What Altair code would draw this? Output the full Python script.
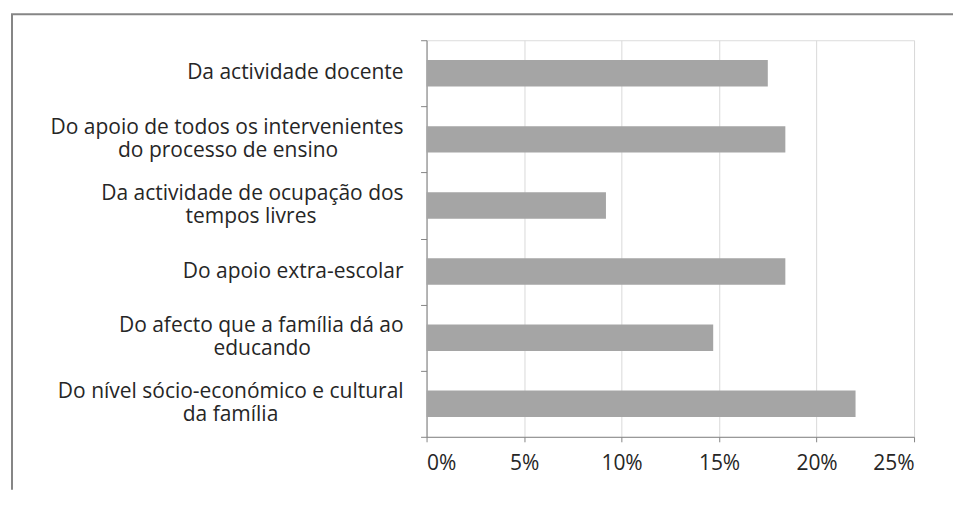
import altair as alt
import pandas as pd

# ---- data ----
categories = [
    "Da actividade docente",
    "Do apoio de todos os intervenientes\ndo processo de ensino",
    "Da actividade de ocupação dos\ntempos livres",
    "Do apoio extra-escolar",
    "Do afecto que a família dá ao\neducando",
    "Do nível sócio-económico e cultural\nda família",
]
values = [0.175, 0.184, 0.092, 0.184, 0.147, 0.220]
x_ticks = [0.0, 0.05, 0.10, 0.15, 0.20, 0.25]

# ---- style ----
W, H = 488, 397
FONT = "Open Sans"
FS = 21
LH = 23
LABEL_GAP = 23          # distance from the y axis to the right edge of labels
TEXT = "#262626"
AXIS = "#868686"
GRID = "#d9d9d9"
BAR = "#a5a5a5"

# approximate Open Sans advance widths (units per 2048 em), used only to
# centre the second line of a wrapped label under the first one
_adv = {" ": 532, "a": 1139, "c": 975, "d": 1255, "e": 1149, "f": 694,
        "i": 518, "l": 518, "m": 1905, "n": 1257, "o": 1237, "p": 1255,
        "q": 1255, "r": 836, "s": 977, "t": 723, "u": 1257, "v": 1026,
        "D": 1479, "-": 659, "ç": 975, "ã": 1139, "á": 1139, "í": 518,
        "ó": 1237, "é": 1149}


def _w(s):
    return sum(_adv.get(ch, 1100) for ch in s)


rows = []
for cat in categories:
    lines = cat.split("\n")
    l1 = lines[0]
    l2 = lines[1] if len(lines) > 1 else ""
    if l2:
        n = max(0, round((_w(l1) - _w(l2)) / 2 / _adv[" "]))
        # non-breaking spaces pad the short line so that, right-aligned,
        # it sits centred under the first line; the zero-width space
        # stops the padding from being trimmed away
        l2 = l2 + "\u00a0" * n + "\u200b"
    rows.append({"categoria": cat, "linha1": l1, "linha2": l2,
                 "n": len(lines)})

df = pd.DataFrame({"categoria": categories, "valor": values})
df_lab = pd.DataFrame(rows)

y_enc = alt.Y(
    "categoria:N", sort=categories,
    scale=alt.Scale(paddingInner=0, paddingOuter=0),
    axis=alt.Axis(
        title=None, grid=False, labels=False,
        tickBand="extent", tickSize=6, tickColor=AXIS, domainColor=AXIS,
    ),
)

bars = alt.Chart(df).mark_bar(color=BAR, height=alt.RelativeBandSize(0.4)).encode(
    x=alt.X(
        "valor:Q",
        scale=alt.Scale(domain=[0, 0.25], nice=False, zero=True),
        axis=alt.Axis(
            values=x_ticks, format=".0%", title=None,
            grid=True, gridColor=GRID, gridWidth=1,
            domainColor=AXIS, tickColor=AXIS, tickSize=5,
            labelPadding=11, labelFont=FONT, labelFontSize=FS, labelColor=TEXT,
        ),
    ),
    y=y_enc,
)

text_style = dict(font=FONT, fontSize=FS, color=TEXT, align="right",
                  baseline="middle")

lab_single = alt.Chart(df_lab).transform_filter("datum.n == 1").mark_text(
    dy=0, **text_style
).encode(y=alt.Y("categoria:N", sort=categories), x=alt.value(-LABEL_GAP),
         text="linha1:N")

lab_first = alt.Chart(df_lab).transform_filter("datum.n == 2").mark_text(
    dy=-LH / 2, **text_style
).encode(y=alt.Y("categoria:N", sort=categories), x=alt.value(-LABEL_GAP),
         text="linha1:N")

lab_second = alt.Chart(df_lab).transform_filter("datum.n == 2").mark_text(
    dy=LH / 2, **text_style
).encode(y=alt.Y("categoria:N", sort=categories), x=alt.value(-LABEL_GAP),
         text="linha2:N")

frame_data = alt.Data(values=[{}])
left_border = alt.Chart(frame_data).mark_rule(color=AXIS, strokeWidth=2).encode(
    x=alt.value(-415), y=alt.value(-26), y2=alt.value(450)
)
top_border = alt.Chart(frame_data).mark_rule(color=AXIS, strokeWidth=2).encode(
    x=alt.value(-416), x2=alt.value(527), y=alt.value(-26)
)

chart = (
    alt.layer(bars, lab_single, lab_first, lab_second, left_border, top_border)
    .properties(width=W, height=H, padding={"left": 2, "top": 5, "right": 0, "bottom": 0})
    .configure_view(stroke=None)
    .configure(background="white")
)

chart.save("out.html", embed_options={"renderer": "svg", "actions": False})
